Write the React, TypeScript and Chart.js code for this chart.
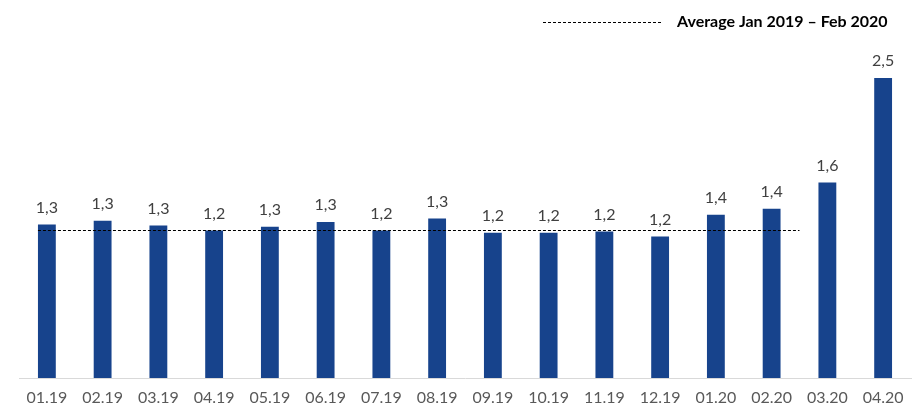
import React, { useEffect, useRef } from "react";
import { Chart, registerables } from "chart.js";

Chart.register(...registerables);

const categories = ["01.19", "02.19", "03.19", "04.19", "05.19", "06.19", "07.19", "08.19", "09.19", "10.19", "11.19", "12.19", "01.20", "02.20", "03.20", "04.20"];
const values = [1.28, 1.31, 1.27, 1.23, 1.26, 1.30, 1.23, 1.33, 1.21, 1.21, 1.22, 1.18, 1.36, 1.41, 1.63, 2.5];
const averageValue = 1.235;
const averageFirstIndex = 0;
const averageLastIndex = 13;
const averageLabel = "Average Jan 2019 \u2013 Feb 2020";

const FONT = "Lato, 'Open Sans', sans-serif";

const overlayPlugin = {
  id: "overlay",
  afterDatasetsDraw(chart: any) {
    const ctx = chart.ctx;
    const meta = chart.getDatasetMeta(0);
    const x = chart.scales.x;
    const y = chart.scales.y;
    // data labels
    ctx.save();
    ctx.fillStyle = "#404040";
    ctx.font = `16px ${FONT}`;
    ctx.textAlign = "center";
    ctx.textBaseline = "bottom";
    meta.data.forEach((bar: any, i: number) => {
      ctx.fillText(values[i].toFixed(1).replace(".", ","), bar.x, bar.y - 9);
    });
    // average line
    const first = meta.data[averageFirstIndex];
    const catW = x.getPixelForValue(1) - x.getPixelForValue(0);
    const x0 = first.x - first.width / 2;
    const x1 = x.getPixelForValue(averageLastIndex) + catW / 2;
    const yy = Math.round(y.getPixelForValue(averageValue)) + 0.5;
    ctx.strokeStyle = "#000000";
    ctx.lineWidth = 1;
    ctx.setLineDash([3, 2]);
    ctx.beginPath();
    ctx.moveTo(x0, yy);
    ctx.lineTo(x1, yy);
    ctx.stroke();
    // legend
    ctx.beginPath();
    ctx.moveTo(543, 22.5);
    ctx.lineTo(663, 22.5);
    ctx.stroke();
    ctx.setLineDash([]);
    ctx.fillStyle = "#000000";
    ctx.font = `bold 16px ${FONT}`;
    ctx.textAlign = "left";
    ctx.textBaseline = "middle";
    ctx.fillText(averageLabel, 677, 22);
    ctx.restore();
  },
};

export default function App() {
  const ref = useRef<HTMLCanvasElement>(null);
  useEffect(() => {
    const chart = new Chart(ref.current as HTMLCanvasElement, {
      type: "bar",
      data: {
        labels: categories,
        datasets: [
          {
            data: values,
            backgroundColor: "#17438C",
            barPercentage: 0.64,
            categoryPercentage: 0.5,
          },
        ],
      },
      options: {
        animation: false,
        responsive: false,
        maintainAspectRatio: false,
        layout: { padding: { left: 19, right: 8, top: 42, bottom: 0 } },
        plugins: { legend: { display: false }, tooltip: { enabled: false } },
        scales: {
          x: {
            grid: { display: false, drawTicks: false },
            border: { display: true, color: "#D9D9D9", width: 1 },
            ticks: { color: "#595959", font: { family: FONT, size: 16 }, padding: 10, maxRotation: 0, autoSkip: false },
            afterFit: (s: any) => {
              s.height = 37;
            },
          },
          y: { display: false, min: 0, max: 2.8 },
        },
      },
      plugins: [overlayPlugin],
    });
    return () => chart.destroy();
  }, []);
  return (
    <div style={{ position: "absolute", left: 0, top: 0, width: 919, height: 415, background: "#fff" }}>
      <canvas ref={ref} width={919} height={415} />
    </div>
  );
}
